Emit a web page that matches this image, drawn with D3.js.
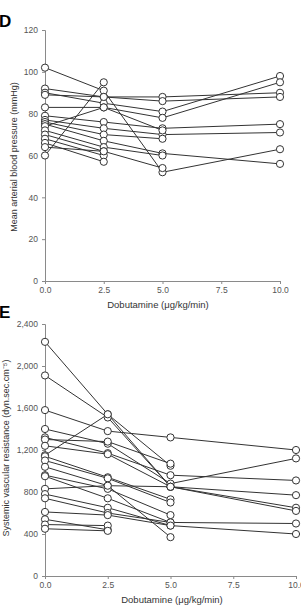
<!DOCTYPE html>
<html>
<head>
<meta charset="utf-8">
<script src="https://cdn.jsdelivr.net/npm/d3@7"></script>
<style>
  body { margin: 0; background: #fff; }
  svg { display: block; }
  .axis path, .axis line { stroke: #8a8a8a; }
  .axis text { fill: #555; font-family: "Liberation Sans Narrow", "Liberation Sans", Arial, sans-serif; font-size: 8.5px; }
  .label { fill: #333; font-family: "Liberation Sans Narrow", "Liberation Sans", Arial, sans-serif; font-size: 9.5px; }
  .ylab { font-size: 9px; }
  .letter { fill: #000; font-family: "Liberation Sans", Arial, sans-serif; font-weight: bold; font-size: 17px; }
</style>
</head>
<body>
<script>
// doses on the x axis
var doses = [0, 2.5, 5, 10];
var doseTicks = [0, 2.5, 5, 7.5, 10];

// panel D, mean arterial blood pressure per patient (mmHg)
var mapSeries = [
  [102, 91, 52, 63],
  [92, 88, 88, 90],
  [90, 85, 81, 98],
  [89, 88, 86, 88],
  [83, 83, 78, 95],
  [79, 76, 73, 75],
  [77, 73, 70, 71],
  [76, 70, 68],
  [75, 67, 61, 56],
  [74, 83, 72],
  [72, 64, 60],
  [70, 62, 54],
  [68, 60],
  [66, 57],
  [64, 62],
  [60, 95]
];
var mapTicks = [0, 20, 40, 60, 80, 100, 120];

// panel E, systemic vascular resistance per patient
var svrSeries = [
  [2230, 1540, 1050],
  [1910, 1510, 850, 650],
  [1580, 1380, 1320, 1200],
  [1400, 1260, 880, 1120],
  [1320, 1170, 960, 910],
  [1300, 1280, 1070],
  [1240, 1160, 850, 770],
  [1150, 1540, 850, 620],
  [1140, 940, 730],
  [1100, 930, 700],
  [1040, 860, 370],
  [960, 830, 580],
  [950, 740, 510, 500],
  [830, 860, 850],
  [780, 650, 480, 400],
  [740, 600, 510],
  [610, 580, 480],
  [540, 440],
  [490, 480],
  [450, 430]
];
var svrTicks = [0, 400, 800, 1200, 1600, 2000, 2400];

var svg = d3.select("body").append("svg")
    .attr("width", 301)
    .attr("height", 609);

// draws one panel
function drawPanel(opt)
{
  var x = d3.scaleLinear().domain([0, 10]).range([opt.left, opt.right]);
  var y = d3.scaleLinear().domain([0, opt.max]).range([opt.bottom, opt.top]);

  var g = svg.append("g");

  g.append("g")
      .attr("class", "axis")
      .attr("transform", "translate(0," + opt.bottom + ")")
      .call(d3.axisBottom(x).tickValues(doseTicks).tickSize(3).tickPadding(3)
        .tickFormat(d3.format(".1f")));

  g.append("g")
      .attr("class", "axis")
      .attr("transform", "translate(" + opt.left + ",0)")
      .call(d3.axisLeft(y).tickValues(opt.ticks).tickSize(3).tickPadding(4)
        .tickFormat(opt.fmt));

  var line = d3.line()
      .x(function(d, i) { return x(doses[i]); })
      .y(function(d) { return y(d); });

  g.selectAll(".patient")
      .data(opt.data)
    .enter().append("path")
      .attr("class", "patient")
      .attr("d", line)
      .attr("fill", "none")
      .attr("stroke", "#333")
      .attr("stroke-width", 1);

  var pts = [];
  opt.data.forEach(function(s) {
    s.forEach(function(v, i) { pts.push([doses[i], v]); });
  });

  g.selectAll(".dot")
      .data(pts)
    .enter().append("circle")
      .attr("class", "dot")
      .attr("r", 3.6)
      .attr("cx", function(d) { return x(d[0]); })
      .attr("cy", function(d) { return y(d[1]); })
      .attr("fill", "#fff")
      .attr("stroke", "#333")
      .attr("stroke-width", 1);

  g.append("text")
      .attr("class", "label")
      .attr("x", opt.xlabelX)
      .attr("y", opt.bottom + 27)
      .attr("text-anchor", "middle")
      .text("Dobutamine (\u03BCg/kg/min)");

  g.append("text")
      .attr("class", "label ylab")
      .attr("transform", "translate(" + opt.ylabelX + "," + opt.ylabelY + ") rotate(-90)")
      .attr("text-anchor", "middle")
      .text(opt.ylabel);

  g.append("text")
      .attr("class", "letter")
      .attr("x", -1)
      .attr("y", opt.letterY)
      .text(opt.letter);
}

drawPanel({
  data: mapSeries, max: 120, ticks: mapTicks, fmt: d3.format("d"),
  left: 45, right: 280, top: 30, bottom: 281,
  xlabelX: 158, ylabelX: 17, ylabelY: 157, letterY: 27, letter: "D",
  ylabel: "Mean arterial blood pressure (mmHg)"
});

drawPanel({
  data: svrSeries, max: 2400, ticks: svrTicks, fmt: d3.format(","),
  left: 45, right: 296, top: 324, bottom: 576,
  xlabelX: 172, ylabelX: 9, ylabelY: 448, letterY: 318, letter: "E",
  ylabel: "Systemic vascular resistance (dyn.sec.cm\u207B\u2075)"
});
</script>
</body>
</html>
